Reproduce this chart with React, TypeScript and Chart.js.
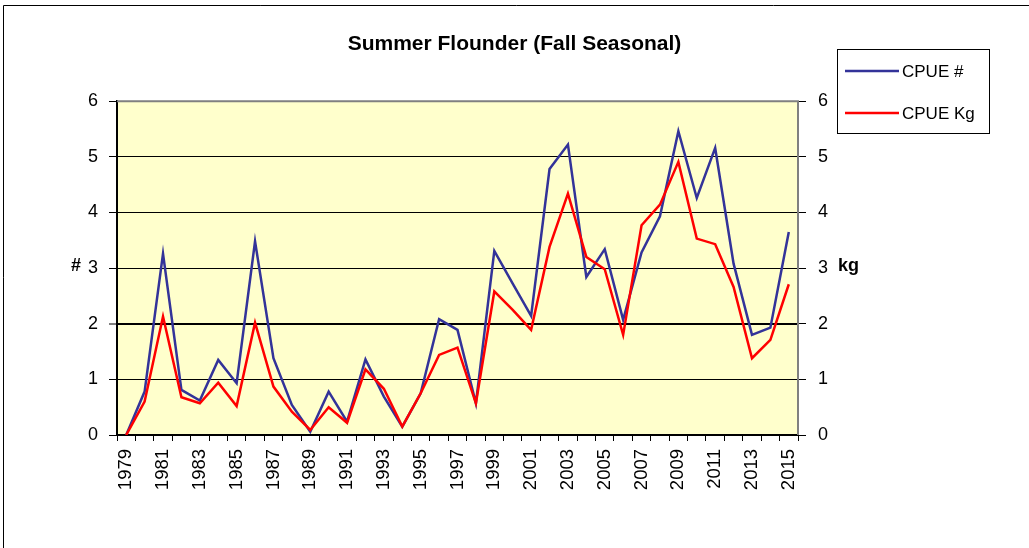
import React, { useEffect, useRef } from 'react';
import { Chart, registerables } from 'chart.js';

Chart.register(...registerables);

const years = [
  '1979', '1980', '1981', '1982', '1983', '1984', '1985', '1986', '1987', '1988',
  '1989', '1990', '1991', '1992', '1993', '1994', '1995', '1996', '1997', '1998',
  '1999', '2000', '2001', '2002', '2003', '2004', '2005', '2006', '2007', '2008',
  '2009', '2010', '2011', '2012', '2013', '2014', '2015',
];

const cpueNumber = [
  0, 0.78, 3.26, 0.81, 0.62, 1.35, 0.93, 3.48, 1.38, 0.54,
  0.06, 0.78, 0.24, 1.36, 0.69, 0.15, 0.75, 2.08, 1.89, 0.57,
  3.31, 2.72, 2.14, 4.78, 5.22, 2.84, 3.34, 2.07, 3.28, 3.93,
  5.46, 4.26, 5.16, 3.08, 1.8, 1.93, 3.65,
];

const cpueKg = [
  0, 0.6, 2.13, 0.68, 0.57, 0.94, 0.52, 2.02, 0.87, 0.42,
  0.09, 0.5, 0.22, 1.18, 0.83, 0.15, 0.75, 1.44, 1.57, 0.57,
  2.58, 2.25, 1.89, 3.38, 4.34, 3.2, 2.98, 1.8, 3.77, 4.14,
  4.91, 3.53, 3.43, 2.66, 1.38, 1.71, 2.71,
];

const seriesLabels = ['CPUE #', 'CPUE Kg'];
const seriesColors = ['#333399', '#FF0000'];
const titleText = 'Summer Flounder (Fall Seasonal)';
const leftAxisTitle = '#';
const rightAxisTitle = 'kg';
const yMin = 0;
const yMax = 6;

const FONT = "'Liberation Sans', Arial, Helvetica, sans-serif";

const decorPlugin = {
  id: 'decor',
  beforeDraw(chart: any) {
    const { ctx, chartArea: a, width, height } = chart;
    ctx.save();
    ctx.fillStyle = '#ffffff';
    ctx.fillRect(0, 0, width, height);
    // outer chart frame
    ctx.strokeStyle = '#000000';
    ctx.lineWidth = 1;
    ctx.beginPath();
    ctx.moveTo(3.5, height + 5);
    ctx.lineTo(3.5, 5.5);
    ctx.lineTo(width + 5, 5.5);
    ctx.stroke();
    // plot area
    ctx.fillStyle = '#FFFFCC';
    ctx.fillRect(a.left, a.top, a.right - a.left, a.bottom - a.top);
    ctx.restore();
  },
  beforeDatasetsDraw(chart: any) {
    const { ctx, chartArea: a } = chart;
    ctx.save();
    ctx.strokeStyle = '#808080';
    ctx.lineWidth = 2;
    ctx.beginPath();
    ctx.moveTo(a.left, a.top);
    ctx.lineTo(a.right, a.top);
    ctx.lineTo(a.right, a.bottom);
    ctx.stroke();
    ctx.restore();
  },
  afterDraw(chart: any) {
    const { ctx, chartArea: a } = chart;
    const midY = (a.top + a.bottom) / 2;
    ctx.save();
    ctx.fillStyle = '#000000';
    ctx.font = `bold 18px ${FONT}`;
    ctx.textBaseline = 'middle';
    ctx.textAlign = 'right';
    ctx.fillText(leftAxisTitle, a.left - 36, midY - 2);
    ctx.textAlign = 'left';
    ctx.fillText(rightAxisTitle, a.right + 40, midY - 2);

    // legend
    const lx = 837;
    const ly = 49;
    const lw = 152;
    const lh = 84;
    ctx.strokeStyle = '#000000';
    ctx.lineWidth = 1;
    ctx.strokeRect(lx + 0.5, ly + 0.5, lw, lh);
    ctx.font = `17px ${FONT}`;
    ctx.textAlign = 'left';
    ctx.textBaseline = 'middle';
    chart.data.datasets.forEach((ds: any, i: number) => {
      const y = ly + 22 + i * 42;
      ctx.strokeStyle = ds.borderColor;
      ctx.lineWidth = 2.5;
      ctx.beginPath();
      ctx.moveTo(lx + 8, y);
      ctx.lineTo(lx + 62, y);
      ctx.stroke();
      ctx.fillStyle = '#000000';
      ctx.fillText(ds.label, lx + 65, y + 1);
    });
    ctx.restore();
  },
};

export default function App() {
  const canvasRef = useRef<HTMLCanvasElement | null>(null);

  useEffect(() => {
    if (!canvasRef.current) return;
    const chart = new Chart(canvasRef.current, {
      type: 'line',
      data: {
        labels: years,
        datasets: [
          {
            label: seriesLabels[0],
            data: cpueNumber,
            borderColor: seriesColors[0],
            backgroundColor: seriesColors[0],
            borderWidth: 2.5,
            pointRadius: 0,
            tension: 0,
            yAxisID: 'y',
            order: 1,
          },
          {
            label: seriesLabels[1],
            data: cpueKg,
            borderColor: seriesColors[1],
            backgroundColor: seriesColors[1],
            borderWidth: 2.5,
            pointRadius: 0,
            tension: 0,
            yAxisID: 'y',
            order: 0,
          },
        ],
      },
      options: {
        animation: false,
        responsive: false,
        devicePixelRatio: 1,
        layout: { padding: 0 },
        plugins: {
          legend: { display: false },
          tooltip: { enabled: false },
          title: {
            display: true,
            text: titleText,
            color: '#000000',
            font: { family: FONT, size: 21, weight: 'bold' },
            padding: { top: 32, bottom: 44 },
          },
        },
        scales: {
          x: {
            type: 'category',
            offset: true,
            grid: {
              offset: true,
              drawOnChartArea: false,
              drawTicks: true,
              tickLength: 6,
              tickColor: '#000000',
              tickWidth: 1,
            },
            border: { display: true, color: '#000000', width: 2 },
            ticks: {
              autoSkip: false,
              maxRotation: 90,
              minRotation: 90,
              padding: 8,
              color: '#000000',
              font: { family: FONT, size: 18.5 },
              callback: (_v: any, i: number) => (i % 2 === 0 ? years[i] : ''),
            },
            afterFit: (scale: any) => {
              scale.height = 113;
            },
          },
          y: {
            type: 'linear',
            position: 'left',
            min: yMin,
            max: yMax,
            grid: {
              drawOnChartArea: true,
              drawTicks: true,
              tickLength: 8,
              tickColor: '#000000',
              tickWidth: 1,
              color: (c: any) =>
                c.tick && (c.tick.value === yMin || c.tick.value === yMax) ? 'rgba(0,0,0,0)' : '#000000',
              lineWidth: (c: any) => (c.tick && c.tick.value === 2 ? 2 : 1),
            },
            border: { display: true, color: '#000000', width: 2 },
            ticks: {
              stepSize: 1,
              padding: 11,
              color: '#000000',
              font: { family: FONT, size: 18 },
            },
            afterFit: (scale: any) => {
              scale.width = 117;
            },
          },
          y2: {
            type: 'linear',
            position: 'right',
            min: yMin,
            max: yMax,
            grid: {
              drawOnChartArea: false,
              drawTicks: true,
              tickLength: 8,
              tickColor: '#000000',
              tickWidth: 1,
            },
            border: { display: false },
            ticks: {
              stepSize: 1,
              padding: 12,
              color: '#000000',
              font: { family: FONT, size: 18 },
            },
            afterFit: (scale: any) => {
              scale.width = 231;
            },
          },
        },
      },
      plugins: [decorPlugin],
    } as any);
    return () => chart.destroy();
  }, []);

  return (
    <div style={{ position: 'absolute', left: 0, top: 0, width: 1029, height: 548 }}>
      <canvas ref={canvasRef} width={1029} height={548} style={{ display: 'block' }} />
    </div>
  );
}
